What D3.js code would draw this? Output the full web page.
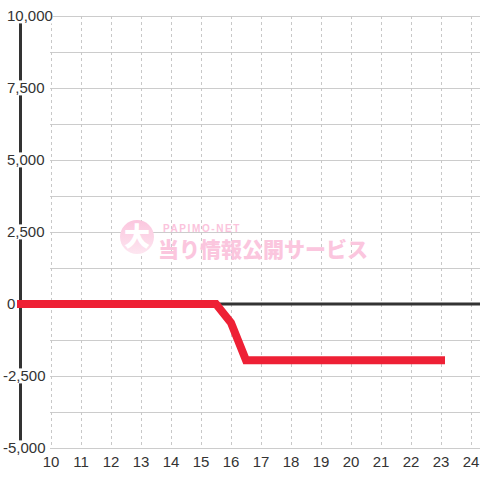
<!DOCTYPE html>
<html><head><meta charset="utf-8">
<script src="https://cdn.jsdelivr.net/npm/d3@7"></script>
<style>html,body{margin:0;padding:0;background:#fff;}svg{display:block;}</style>
</head><body>
<script>
const hours = [9, 10, 11, 12, 13, 14, 15, 15.5, 16, 16.5, 17, 18, 19, 20, 21, 22, 23];
const values = [0, 0, 0, 0, 0, 0, 0, 0, -650, -1950, -1950, -1950, -1950, -1950, -1950, -1950, -1950];
const xTicks = [10, 11, 12, 13, 14, 15, 16, 17, 18, 19, 20, 21, 22, 23, 24];
const yLabelTicks = [10000, 7500, 5000, 2500, 0, -2500, -5000];
const yGridTicks = [10000, 8750, 7500, 6250, 5000, 3750, 2500, 1250, 0, -1250, -2500, -3750, -5000];

const W = 480, H = 480;
const svg = d3.select("body").append("svg").attr("width", W).attr("height", H)
  .style("font-family", "'Liberation Sans', Arial, sans-serif");

const x = d3.scaleLinear().domain([10, 24]).range([51, 471]);
const y = d3.scaleLinear().domain([-5000, 10000]).range([448, 16]);

// horizontal grid
svg.append("g").selectAll("line").data(yGridTicks).join("line")
  .attr("x1", 50).attr("x2", W)
  .attr("y1", d => Math.round(y(d)) + 0.5).attr("y2", d => Math.round(y(d)) + 0.5)
  .attr("stroke", "#cccccc").attr("stroke-width", 1);

// vertical dashed grid
svg.append("g").selectAll("line").data(xTicks).join("line")
  .attr("x1", d => Math.round(x(d)) + 0.5).attr("x2", d => Math.round(x(d)) + 0.5)
  .attr("y1", y(10000)).attr("y2", y(-5000))
  .attr("stroke", "#c8c8c8").attr("stroke-width", 1).attr("stroke-dasharray", "3,3");

// watermark
const wm = svg.append("g");
const defs = svg.append("defs");
const grad = defs.append("linearGradient").attr("id", "wmg").attr("x1", 0).attr("x2", 0).attr("y1", 0).attr("y2", 1);
grad.append("stop").attr("offset", "0%").attr("stop-color", "#fbc6de");
grad.append("stop").attr("offset", "100%").attr("stop-color", "#fde6f0");
wm.append("circle").attr("cx", 137).attr("cy", 237).attr("r", 17).attr("fill", "url(#wmg)");
wm.append("text").attr("x", 137).attr("y", 246).attr("text-anchor", "middle")
  .attr("font-family", "'Noto Sans CJK JP', sans-serif").attr("font-weight", 900)
  .attr("font-size", 26).attr("fill", "#ffffff").text("大");
wm.append("text").attr("x", 163).attr("y", 232).attr("font-size", 10).attr("font-weight", "bold")
  .attr("letter-spacing", 1.6).attr("fill", "#fbc3dc").text("PAPIMO-NET");
wm.append("text").attr("x", 158).attr("y", 257).attr("font-size", 21).attr("font-weight", 900)
  .attr("font-family", "'Noto Sans CJK JP', sans-serif").attr("fill", "#fbc6de")
  .text("当り情報公開サービス");

// left axis line
svg.append("line").attr("x1", 20.5).attr("x2", 20.5).attr("y1", y(10000)).attr("y2", y(-5000))
  .attr("stroke", "#333333").attr("stroke-width", 3);

// zero line
svg.append("line").attr("x1", 19).attr("x2", W).attr("y1", y(0)).attr("y2", y(0))
  .attr("stroke", "#333333").attr("stroke-width", 3);

// data line
const line = d3.line().x((d, i) => x(hours[i])).y(d => y(d));
svg.append("path").datum(values).attr("d", line)
  .attr("fill", "none").attr("stroke", "#ee2035").attr("stroke-width", 8)
  .attr("stroke-linejoin", "miter").attr("stroke-linecap", "square");

// y labels with white background
const fmt = d3.format(",");
const yl = svg.append("g").selectAll("g").data(yLabelTicks).join("g");
yl.append("text")
  .attr("x", d => d < 0 ? 3 : 7).attr("y", d => y(d)).attr("dy", "0.36em")
  .attr("font-size", 15).attr("fill", "#333333")
  .text(d => fmt(d).replace("−", "-"));
yl.each(function() {
  const t = d3.select(this).select("text");
  const b = t.node().getBBox();
  d3.select(this).insert("rect", "text").attr("x", b.x).attr("y", b.y + 1)
    .attr("width", b.width).attr("height", b.height - 2).attr("fill", "#ffffff");
});

// x labels
svg.append("g").selectAll("text").data(xTicks).join("text")
  .attr("x", d => x(d)).attr("y", 467).attr("text-anchor", "middle")
  .attr("font-size", 15).attr("fill", "#333333").text(d => d);
</script>
</body></html>
